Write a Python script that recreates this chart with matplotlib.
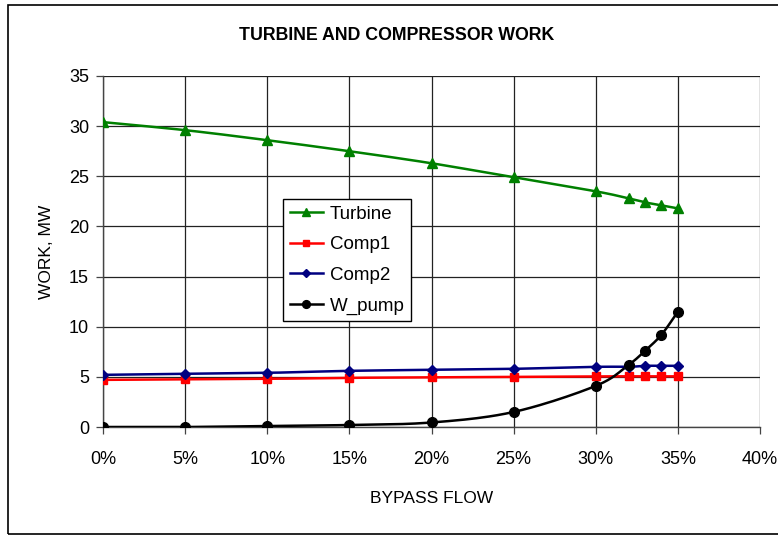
import numpy as np
import matplotlib
matplotlib.use("Agg")
import matplotlib.pyplot as plt
from matplotlib.patches import Rectangle
from matplotlib.ticker import FuncFormatter

plt.rcParams['font.family'] = ['Liberation Sans', 'DejaVu Sans']

bypass = [0.00, 0.05, 0.10, 0.15, 0.20, 0.25, 0.30, 0.32, 0.33, 0.34, 0.35]
turbine = [30.4, 29.6, 28.6, 27.5, 26.3, 24.9, 23.5, 22.8, 22.4, 22.1, 21.8]
comp1 = [4.7, 4.75, 4.8, 4.9, 4.95, 5.0, 5.05, 5.05, 5.05, 5.05, 5.05]
comp2 = [5.2, 5.3, 5.4, 5.6, 5.7, 5.8, 6.0, 6.0, 6.1, 6.1, 6.1]
w_pump = [0.0, 0.0, 0.1, 0.2, 0.45, 1.5, 4.1, 6.2, 7.6, 9.2, 11.5]

series_names = ["Turbine", "Comp1", "Comp2", "W_pump"]
x_ticks = [0.0, 0.05, 0.10, 0.15, 0.20, 0.25, 0.30, 0.35, 0.40]
y_ticks = [0, 5, 10, 15, 20, 25, 30, 35]


def smooth(x, y, n=20):
    """Catmull-Rom smoothing similar to Excel's smoothed lines."""
    x = np.asarray(x, float)
    y = np.asarray(y, float)
    P = np.column_stack([x, y])
    P = np.vstack([P[0] - (P[1] - P[0]), P, P[-1] + (P[-1] - P[-2])])
    out = []
    t = np.linspace(0, 1, n, endpoint=False)[:, None]
    for i in range(1, len(P) - 2):
        p0, p1, p2, p3 = P[i - 1], P[i], P[i + 1], P[i + 2]
        seg = 0.5 * ((2 * p1) + (-p0 + p2) * t + (2 * p0 - 5 * p1 + 4 * p2 - p3) * t ** 2
                     + (-p0 + 3 * p1 - 3 * p2 + p3) * t ** 3)
        out.append(seg)
    out.append(P[-2][None, :])
    out = np.vstack(out)
    return out[:, 0], out[:, 1]


fig = plt.figure(figsize=(7.78, 5.36), dpi=100)
W, H = 778, 536
ax = fig.add_axes([103 / W, 1 - 427 / H, (760 - 103) / W, (427 - 76) / H])

# outer chart frame
fig.patches.append(Rectangle((8 / W, 1 - 534 / H), 1.2, (534 - 5) / H,
                             transform=fig.transFigure, fill=False,
                             edgecolor='black', linewidth=1.2))

styles = [
    (turbine, '#008000', '^', 7),
    (comp1, '#FF0000', 's', 6),
    (comp2, '#000080', 'D', 5.5),
    (w_pump, '#000000', 'o', 7),
]
for (vals, col, mk, ms), name in zip(styles, series_names):
    sx, sy = smooth(bypass, vals)
    ax.plot(sx, sy, color=col, lw=1.8, zorder=3)
    ax.plot(bypass, vals, linestyle='none', marker=mk, color=col, ms=ms, zorder=4)
    ax.plot([], [], color=col, marker=mk, ms=ms * 0.8, lw=1.8, label=name)

ax.set_xlim(0, 0.40)
ax.set_ylim(0, 35)
ax.set_xticks(x_ticks)
ax.set_yticks(y_ticks)
ax.xaxis.set_major_formatter(FuncFormatter(lambda v, p: f"{v * 100:.0f}%"))
ax.grid(True, color='#222222', linewidth=0.9)
ax.set_axisbelow(True)
for s in ['top', 'right']:
    ax.spines[s].set_visible(False)
for s in ['left', 'bottom']:
    ax.spines[s].set_color('#444444')
    ax.spines[s].set_linewidth(1.0)
ax.tick_params(axis='both', direction='out', length=5, width=0.9, color='#444444',
               labelsize=13, pad=5)
ax.tick_params(axis='x', pad=12)

ax.set_xlabel("BYPASS FLOW", fontsize=12.5, labelpad=17)
ax.set_ylabel("WORK, MW", fontsize=12.5, labelpad=11)
fig.text(397 / W, 1 - 35 / H, "TURBINE AND COMPRESSOR WORK", fontsize=12.8,
         fontweight='bold', ha='center', va='center')

leg = ax.legend(loc='upper left', bbox_to_anchor=(0.274, 0.65), borderaxespad=0,
                fontsize=13.5, frameon=True, fancybox=False, edgecolor='black',
                framealpha=1, handlelength=1.8, handletextpad=0.35,
                labelspacing=0.72, borderpad=0.35)
leg.get_frame().set_linewidth(1.0)

fig.savefig("out.png", dpi=100)
